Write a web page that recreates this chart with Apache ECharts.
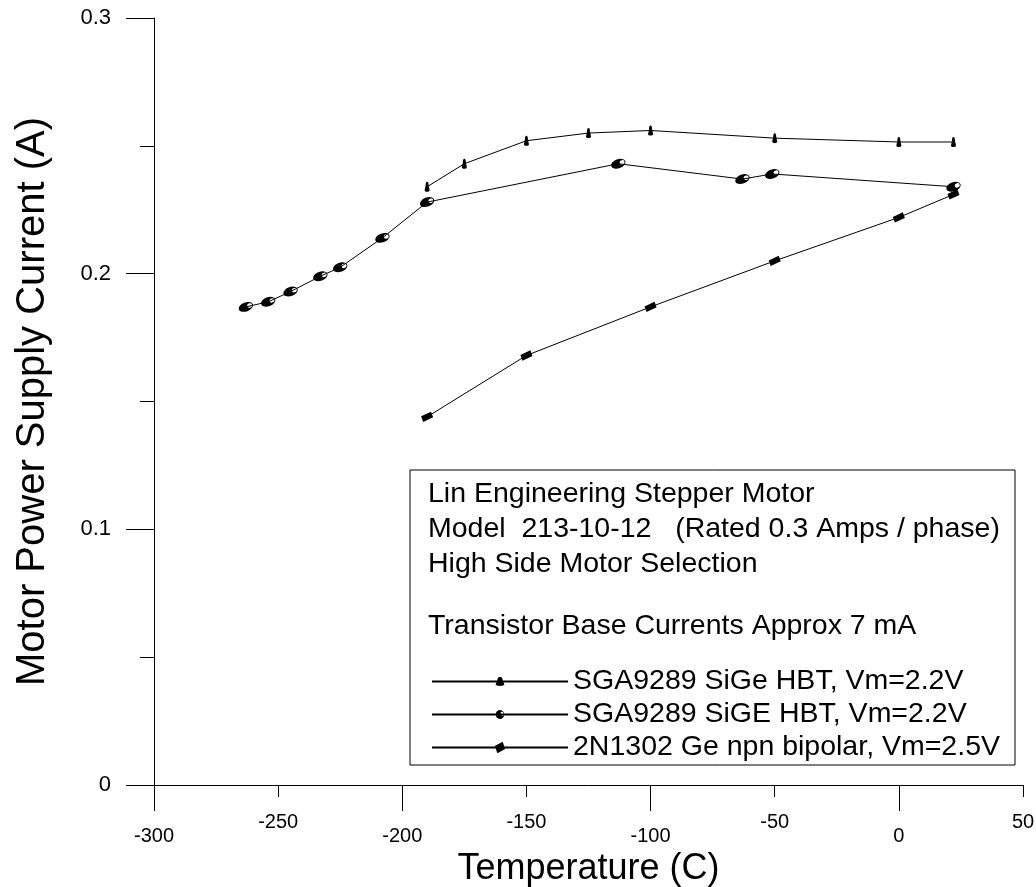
<!DOCTYPE html>
<html><head><meta charset="utf-8">
<script src="https://cdn.jsdelivr.net/npm/echarts@6/dist/echarts.min.js"></script>
<style>html,body{margin:0;padding:0;background:#fff}#c{width:1036px;height:887px}</style>
</head><body><div id="c"></div>
<script>
// ---- data ----
const seriesNames = ['SGA9289 SiGe HBT, Vm=2.2V', 'SGA9289 SiGE HBT, Vm=2.2V', '2N1302 Ge npn bipolar, Vm=2.5V'];
const s1Temp = [-190, -175, -150, -125, -100, -50, 0, 22];
const s1Curr = [0.234, 0.243, 0.252, 0.255, 0.256, 0.253, 0.2515, 0.2515];
const s2Temp = [-263, -254, -245, -233, -225, -208, -190, -113, -63, -51, 22];
const s2Curr = [0.187, 0.189, 0.193, 0.199, 0.2025, 0.214, 0.228, 0.243, 0.237, 0.239, 0.234];
const s3Temp = [-190, -150, -100, -50, 0, 22];
const s3Curr = [0.144, 0.168, 0.187, 0.205, 0.222, 0.231];
const xMajorTicks = [-300, -200, -100, 0];
const xMinorTicks = [-250, -150, -50, 50];
const headerLines = ['Lin Engineering Stepper Motor', 'Model  213-10-12   (Rated 0.3 Amps / phase)', 'High Side Motor Selection'];
const noteLine = 'Transistor Base Currents Approx 7 mA';
const xTitle = 'Temperature (C)';
const yTitle = 'Motor Power Supply Current (A)';

const zip = (a, b) => a.map((v, i) => [v, b[i]]);
const FONT = 'Liberation Sans, Arial, sans-serif';

const sym1 = 'path://M2,0 C3,0 3.2,2 3.2,3.5 L4,8 C4,10 0,10 0,8 L0.8,3.5 C0.8,2 1,0 2,0 Z';
const sym2 = 'path://M0,5 A7,4.5 0 1,1 14,5 A7,4.5 0 1,1 0,5 Z M8.5,5 A2.3,1.8 0 1,0 13,5 A2.3,1.8 0 1,0 8.5,5 Z';
const sym3 = 'path://M0,1 L10,0 L10,6 L0,7 Z M5.5,1.8 L8.5,1.6 L8.5,4.5 L5.5,4.8 Z';

const chart = echarts.init(document.getElementById('c'), null, {renderer: 'canvas'});
const axisCommon = {
  type: 'value', min: -300, max: 50, position: 'bottom',
  axisLine: {show: true, onZero: false, lineStyle: {color: '#000', width: 1}},
  splitLine: {show: false}
};
chart.setOption({
  animation: false,
  backgroundColor: '#fff',
  grid: {left: 154, right: 13, top: 18, bottom: 102, containLabel: false, outerBoundsMode: 'none'},
  xAxis: [
    Object.assign({}, axisCommon, {
      name: xTitle, nameLocation: 'middle', nameGap: 62,
      nameTextStyle: {fontFamily: FONT, fontSize: 36, color: '#000'},
      axisTick: {show: true, length: 26, customValues: xMajorTicks, lineStyle: {color: '#000'}},
      axisLabel: {show: true, customValues: xMajorTicks, margin: 41, fontFamily: FONT, fontSize: 20, color: '#000'}
    }),
    Object.assign({}, axisCommon, {
      axisTick: {show: true, length: 12, customValues: xMinorTicks, lineStyle: {color: '#000'}},
      axisLabel: {show: true, customValues: xMinorTicks, margin: 27, fontFamily: FONT, fontSize: 20, color: '#000'}
    })
  ],
  yAxis: [
    {
      type: 'value', min: 0, max: 0.3, interval: 0.1, position: 'left',
      name: yTitle, nameLocation: 'middle', nameGap: 101, nameRotate: 90,
      nameTextStyle: {fontFamily: FONT, fontSize: 40, color: '#000'},
      axisLine: {show: true, onZero: false, lineStyle: {color: '#000', width: 1}},
      axisTick: {show: true, length: 28, lineStyle: {color: '#000'}},
      axisLabel: {show: true, margin: 43, fontFamily: FONT, fontSize: 22, color: '#000'},
      splitLine: {show: false}
    },
    {
      type: 'value', min: 0, max: 0.3, interval: 0.05, position: 'left',
      axisLine: {show: false, onZero: false},
      axisTick: {show: true, length: 14, lineStyle: {color: '#000'}},
      axisLabel: {show: false},
      splitLine: {show: false}
    }
  ],
  legend: {
    orient: 'vertical', left: 426, top: 662,
    itemWidth: 136, itemHeight: 11, itemGap: 4,
    textStyle: {fontFamily: FONT, fontSize: 28.5, color: '#000'},
    data: seriesNames
  },
  graphic: [
    {type: 'rect', z: 0, shape: {x: 410, y: 470, width: 605, height: 295},
     style: {fill: '#fff', stroke: '#000', lineWidth: 1}},
    {type: 'text', z: 1, left: 428, top: 477,
     style: {text: headerLines.join('\n'), font: '28.5px ' + FONT, lineHeight: 35, fill: '#000'}},
    {type: 'text', z: 1, left: 428, top: 609,
     style: {text: noteLine, font: '28.5px ' + FONT, lineHeight: 35, fill: '#000'}}
  ],
  series: [
    {name: seriesNames[0], type: 'line', data: zip(s1Temp, s1Curr), symbol: sym1, symbolSize: [5, 10],
     lineStyle: {color: '#000', width: 1}, itemStyle: {color: '#000'}, z: 5},
    {name: seriesNames[1], type: 'line', data: zip(s2Temp, s2Curr), symbol: sym2, symbolSize: [15, 9], symbolRotate: 20,
     lineStyle: {color: '#000', width: 1}, itemStyle: {color: '#000'}, z: 5},
    {name: seriesNames[2], type: 'line', data: zip(s3Temp, s3Curr), symbol: sym3, symbolSize: [11, 7], symbolRotate: 20,
     lineStyle: {color: '#000', width: 1}, itemStyle: {color: '#000'}, z: 5}
  ]
});
</script>
</body></html>
